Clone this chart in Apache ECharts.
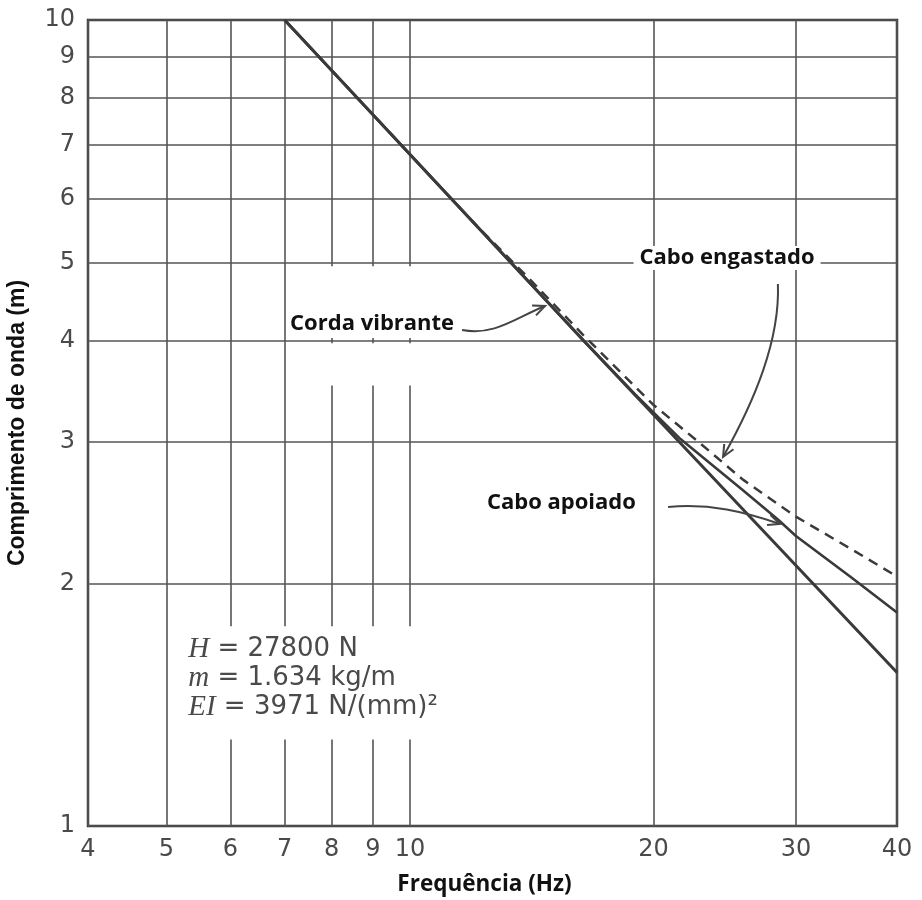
<!DOCTYPE html>
<html><head><meta charset="utf-8">
<script src="https://cdn.jsdelivr.net/npm/echarts@6/dist/echarts.min.js"></script>
<style>html,body{margin:0;padding:0;background:#fff}#c{width:922px;height:900px}</style>
</head><body><div id="c"></div>
<script>
// ---- data (frequency Hz -> wavelength m) ----
const xTicks = [4, 5, 6, 7, 8, 9, 10, 20, 30, 40];
const yTicks = [1, 2, 3, 4, 5, 6, 7, 8, 9, 10];

const cordaF = [7, 16.4, 40];
const cordaL = [10, 4.0, 1.55];

const apoiadoF = [7, 16.4, 19, 21.6, 25.8, 28.5, 30, 35, 40];
const apoiadoL = [10, 4.0, 3.43, 3.02, 2.61, 2.40, 2.29, 2.04, 1.84];

const engastadoF = [7, 12, 14, 16.4, 20, 22.7, 25.8, 30, 35, 40];
const engastadoL = [10, 5.6, 4.79, 4.06, 3.33, 3.0, 2.69, 2.42, 2.21, 2.04];

// annotations (data coordinates)
const labelTexts = ['Corda vibrante', 'Cabo engastado', 'Cabo apoiado'];
const labelPos = [[7.11, 4.196], [24.66, 5.067], [12.45, 2.516]];
const labelAlign = ['left', 'center', 'left'];
const arrowPaths = [
  [[11.60, 4.125], [12.74, 4.055], [13.49, 4.268], [14.69, 4.417]],
  [[28.50, 4.704], [28.67, 4.009], [26.70, 3.377], [24.38, 2.870]],
  [[20.85, 2.488], [23.49, 2.516], [25.95, 2.453], [28.67, 2.370]]
];
const paramText = '{i|H} = 27800 N\n{i|m} = 1.634 kg/m\n{i|EI} = 3971 N/(mm)²';
const paramPos = [5.32, 1.725];
// gaps in the printed grid
const gapAreas = [
  [[7.6, 4.03], [10.6, 4.95]],
  [[7.6, 3.52], [10.6, 3.97]],
  [[5.7, 1.28], [10.6, 1.77]]
];

const zip = (a, b) => a.map((v, i) => [v, b[i]]);
const gridLine = { color: '#555', width: 1.6 };
const lineColor = '#3a3a3a';

const chart = echarts.init(document.getElementById('c'), null, { renderer: 'canvas' });
chart.setOption({
  animation: false,
  backgroundColor: '#fff',
  grid: { left: 88, right: 25, top: 20, bottom: 74, show: true, borderColor: '#333', borderWidth: 2.5,
    outerBoundsMode: 'none', containLabel: false },
  xAxis: {
    type: 'log', logBase: 10, min: 4, max: 40,
    name: 'Frequência (Hz)', nameLocation: 'middle', nameGap: 47,
    nameTextStyle: { fontFamily: 'Open Sans', fontWeight: 'bold', fontSize: 22.5, color: '#111', padding: [0, 16, 0, 0] },
    axisLine: { show: false },
    axisTick: { show: false, customValues: xTicks },
    axisLabel: { customValues: xTicks, margin: 12, fontFamily: 'DejaVu Sans', fontSize: 24, color: '#4a4a4a',
      formatter: v => String(Math.round(v)) },
    splitLine: { show: true, lineStyle: gridLine },
    minorTick: { show: false }, minorSplitLine: { show: false }
  },
  yAxis: {
    type: 'log', logBase: 10, min: 1, max: 10,
    name: 'Comprimento de onda (m)', nameLocation: 'middle', nameGap: 59, nameRotate: 90,
    nameTextStyle: { fontFamily: 'Liberation Sans', fontWeight: 'bold', fontSize: 23, color: '#111' },
    axisLine: { show: false },
    axisTick: { show: false, customValues: yTicks },
    axisLabel: { customValues: yTicks, margin: 13, fontFamily: 'DejaVu Sans', fontSize: 24, color: '#4a4a4a',
      formatter: v => String(Math.round(v)) },
    splitLine: { show: true, lineStyle: gridLine },
    minorTick: { show: false }, minorSplitLine: { show: false }
  },
  series: [
    {
      type: 'line', name: 'Cabo engastado', data: zip(engastadoF, engastadoL), showSymbol: false, symbol: 'none',
      lineStyle: { color: lineColor, width: 2.5, type: [10, 7] },
      markArea: { silent: true, label: { show: false }, itemStyle: { color: '#fff', opacity: 1 },
        data: gapAreas.map(a => [{ coord: a[0] }, { coord: a[1] }]) }
    },
    { type: 'line', name: 'Cabo apoiado', data: zip(apoiadoF, apoiadoL), showSymbol: false, symbol: 'none',
      lineStyle: { color: lineColor, width: 2.6 } },
    { type: 'line', name: 'Corda vibrante', data: zip(cordaF, cordaL), showSymbol: false, symbol: 'none',
      lineStyle: { color: lineColor, width: 3 } }
  ]
});

const px = p => chart.convertToPixel({ gridIndex: 0 }, p);
const graphics = [];
labelTexts.forEach((t, i) => {
  const p = px(labelPos[i]);
  const st = { text: t, x: p[0], y: p[1], fontFamily: 'Open Sans', fontWeight: 'bold', fontSize: 22, fill: '#111',
    align: labelAlign[i], verticalAlign: 'middle', textAlign: labelAlign[i], textVerticalAlign: 'middle' };
  if (i === 1) { st.backgroundColor = '#fff'; st.padding = [1, 6]; }
  graphics.push({ type: 'text', z: 100, silent: true, style: st });
});
arrowPaths.forEach(a => {
  const p = a.map(px);
  graphics.push({ type: 'bezierCurve', z: 100, silent: true,
    shape: { x1: p[0][0], y1: p[0][1], cpx1: p[1][0], cpy1: p[1][1], cpx2: p[2][0], cpy2: p[2][1], x2: p[3][0], y2: p[3][1] },
    style: { stroke: '#444', lineWidth: 2, fill: null } });
  const tip = p[3], from = p[2];
  const ang = Math.atan2(tip[1] - from[1], tip[0] - from[0]);
  const L = 13, w = 0.42;
  graphics.push({ type: 'polyline', z: 100, silent: true,
    shape: { points: [[tip[0] - L * Math.cos(ang - w), tip[1] - L * Math.sin(ang - w)], tip,
                      [tip[0] - L * Math.cos(ang + w), tip[1] - L * Math.sin(ang + w)]] },
    style: { stroke: '#444', lineWidth: 2, fill: null } });
});
const pp = px(paramPos);
graphics.push({ type: 'text', z: 100, silent: true, style: {
  text: paramText, x: pp[0], y: pp[1], fontFamily: 'DejaVu Sans', fontSize: 26, fill: '#4a4a4a', lineHeight: 29,
  align: 'left', verticalAlign: 'top', textAlign: 'left', textVerticalAlign: 'top',
  rich: { i: { fontFamily: 'Liberation Serif', fontStyle: 'italic', fontSize: 29, fill: '#4a4a4a', lineHeight: 29 } }
} });
chart.setOption({ graphic: graphics });
</script>
</body></html>
